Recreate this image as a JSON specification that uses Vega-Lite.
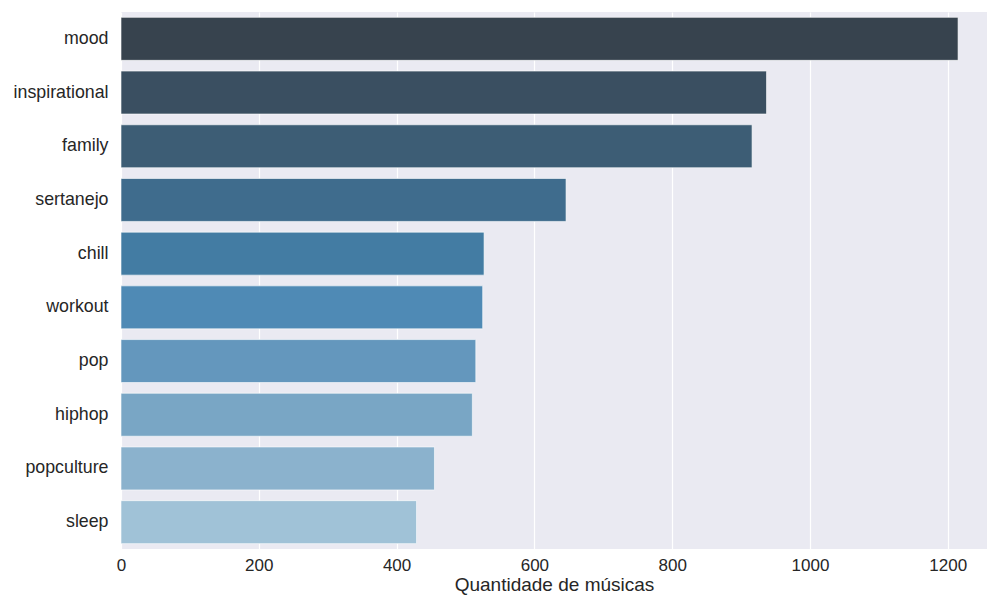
{
  "$schema": "https://vega.github.io/schema/vega-lite/v6.json",
  "autosize": {"type": "none"},
  "width": 866,
  "height": 537,
  "padding": {"left": 121, "top": 12, "right": 0, "bottom": 47},
  "background": "white",
  "config": {
    "view": {"fill": "#EAEAF2", "stroke": null},
    "font": "Liberation Sans",
    "axis": {"labelColor": "#262626", "titleColor": "#262626", "domain": false, "ticks": false, "labelFont": "Liberation Sans", "titleFont": "Liberation Sans"}
  },
  "data": {
    "values": [
      {"tag": "mood", "n": 1215, "rank": 1},
      {"tag": "inspirational", "n": 937, "rank": 2},
      {"tag": "family", "n": 916, "rank": 3},
      {"tag": "sertanejo", "n": 646, "rank": 4},
      {"tag": "chill", "n": 527, "rank": 5},
      {"tag": "workout", "n": 525, "rank": 6},
      {"tag": "pop", "n": 515, "rank": 7},
      {"tag": "hiphop", "n": 510, "rank": 8},
      {"tag": "popculture", "n": 455, "rank": 9},
      {"tag": "sleep", "n": 429, "rank": 10}
    ]
  },
  "mark": {"type": "bar", "stroke": "#ffffff", "strokeOpacity": 0.6, "strokeWidth": 1},
  "encoding": {
    "y": {
      "field": "tag", "type": "nominal",
      "sort": {"field": "rank", "order": "ascending"},
      "scale": {"paddingInner": 0.2, "paddingOuter": 0.1},
      "axis": {"title": null, "labelFontSize": 17.8, "labelPadding": 13, "grid": false}
    },
    "x": {
      "field": "n", "type": "quantitative",
      "scale": {"domain": [0, 1257], "nice": false},
      "axis": {"title": "Quantidade de músicas", "format": "d", "values": [0, 200, 400, 600, 800, 1000, 1200], "labelFontSize": 17, "labelPadding": 8, "titleFontSize": 19, "titleFontWeight": "normal", "titlePadding": 2, "grid": true, "gridColor": "#ffffff", "gridWidth": 1.2, "labelFlush": false}
    },
    "color": {
      "field": "tag", "type": "nominal", "legend": null,
      "scale": {
        "domain": ["mood", "inspirational", "family", "sertanejo", "chill", "workout", "pop", "hiphop", "popculture", "sleep"],
        "range": ["#37434e", "#3a4f61", "#3d5d75", "#3f6c8d", "#437ca3", "#4f8ab5", "#6497bd", "#79a6c5", "#8bb2cd", "#a0c2d7"]
      }
    }
  }
}
